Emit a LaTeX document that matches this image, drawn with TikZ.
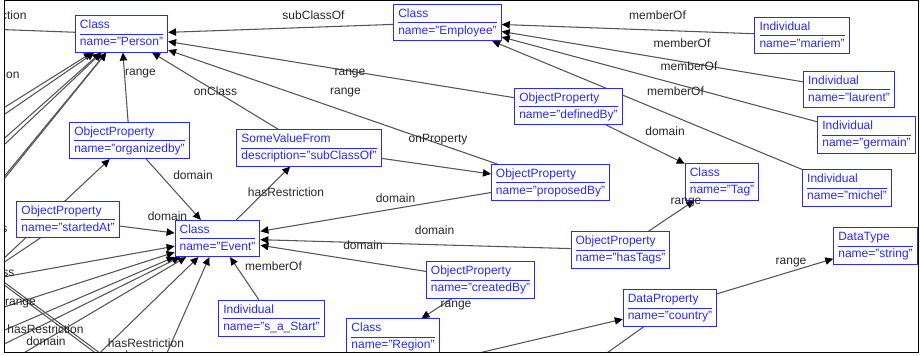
\documentclass[tikz,border=0pt]{standalone}
\usepackage{fontspec}
\setmainfont{Liberation Sans}
\usetikzlibrary{arrows.meta,backgrounds}
\definecolor{ontoblue}{RGB}{40,40,255}
\definecolor{edgegray}{RGB}{85,85,85}
\setlength{\arrayrulewidth}{0.7pt}
\tikzset{every picture/.style={line width=0.75pt}}
\tikzset{
  entity/.style={draw=ontoblue, text=ontoblue, fill=white, line width=0.75pt, inner xsep=3.4pt, inner ysep=1.2pt, font=\fontsize{9}{12}\selectfont},
  rel/.style={draw=edgegray, line width=0.8pt, -{Triangle[length=6pt,width=5.5pt,color=black]}},
  link/.style={draw=edgegray, line width=0.8pt},
  lbl/.style={inner sep=0pt, text=black!85, font=\fontsize{9}{11}\selectfont}
}
\newcommand{\ontobox}[2]{\begin{tabular}{@{}l@{}}#1\\\hline #2\end{tabular}}

\begin{document}
\begin{tikzpicture}[x=0.75pt,y=0.75pt,yscale=-1,xscale=1]
\useasboundingbox (0,0) rectangle (920,356);

\begin{scope}
\clip (4,0.5) rectangle (918.5,352.5);
%Classes
\node[entity] (person) at (121.5,34) {\ontobox{Class}{name="Person"}};
\node[entity] (employee) at (447.5,22.5) {\ontobox{Class}{name="Employee"}};
\node[entity] (tag) at (722,182) {\ontobox{Class}{name="Tag"}};
\node[entity] (event) at (217.5,238.5) {\ontobox{Class}{name="Event"}};
\node[entity] (region) at (393,337) {\ontobox{Class}{name="Region"}};
%Individuals
\node[entity] (mariem) at (802,35.5) {\ontobox{Individual}{name="mariem"}};
\node[entity] (laurent) at (849,89.5) {\ontobox{Individual}{name="laurent"}};
\node[entity] (germain) at (866.5,135) {\ontobox{Individual}{name="germain"}};
\node[entity] (michel) at (847,188) {\ontobox{Individual}{name="michel"}};
\node[entity] (sastart) at (271.5,318.5) {\ontobox{Individual}{name="s\_a\_Start"}};
%Properties
\node[entity] (definedby) at (568.5,106.5) {\ontobox{ObjectProperty}{name="definedBy"}};
\node[entity] (organizedby) at (129.5,140.5) {\ontobox{ObjectProperty}{name="organizedby"}};
\node[entity] (proposedby) at (550.5,182.5) {\ontobox{ObjectProperty}{name="proposedBy"}};
\node[entity] (startedat) at (68,219.5) {\ontobox{ObjectProperty}{name="startedAt"}};
\node[entity] (hastags) at (620.5,250) {\ontobox{ObjectProperty}{name="hasTags"}};
\node[entity] (createdby) at (480.5,280) {\ontobox{ObjectProperty}{name="createdBy"}};
\node[entity] (country) at (670,308) {\ontobox{DataProperty}{name="country"}};
\node[entity] (string) at (875.5,246) {\ontobox{DataType}{name="string"}};
\node[entity] (somevalue) at (309,148) {\ontobox{SomeValueFrom}{description="subClassOf"}};

% Text Node
\node[lbl] (lsubclass) at (313.5,15) {subClassOf};
\node[lbl] (lmem1) at (657.5,15) {memberOf};
\node[lbl] (lmem2) at (682,43) {memberOf};
\node[lbl] (lmem3) at (689,66) {memberOf};
\node[lbl] (lmem4) at (675.5,91) {memberOf};
\node[lbl] (lrange1) at (350,74) {range};
\node[lbl] (lrange2) at (345.5,93) {range};
\node[lbl] (lrange3) at (140.5,74) {range};
\node[lbl] (lonclass) at (215.5,91) {onClass};
\node[lbl] (lonprop) at (438,140) {onProperty};
\node[lbl] (ldom1) at (665,131) {domain};
\node[lbl] (ldom2) at (193,175) {domain};
\node[lbl] (ldom3) at (167.5,216) {domain};
\node[lbl] (lhasres) at (286,192) {hasRestriction};
\node[lbl] (ldom4) at (395.5,198) {domain};
\node[lbl] (ldom5) at (434.5,230) {domain};
\node[lbl] (ldom6) at (363,245) {domain};
\node[lbl] (lmem5) at (273.5,266) {memberOf};
\node[lbl] (lrange4) at (456,306) {range};
\node[lbl] (lrange5) at (686,203) {range};
\node[lbl] (lrange6) at (791,263) {range};
% Text Node (cut at the frame)
\node[lbl, anchor=east] (lcut1) at (27,15) {hasRestriction};
\node[lbl, anchor=east] (lcut2) at (20,74) {hasRestriction};
\node[lbl, anchor=east] (lcut3) at (8,228) {onClass};
\node[lbl, anchor=east] (lcut4) at (15,272) {onClass};
\node[lbl] (lcut5) at (20.5,304) {range};
\node[lbl] (lcut6) at (45.5,329) {hasRestriction};
\node[lbl] (lcut7) at (46,341) {domain};
\node[lbl] (lcut8) at (146,343) {hasRestriction};
\node[lbl] (lcut9) at (141,355) {domain};
\end{scope}

\begin{pgfonlayer}{background}
\clip (4,0.5) rectangle (918.5,352.5);
%Straight Lines
\draw[rel] (employee) -- (person);
\draw[rel] (mariem) -- (employee);
\draw[rel] (laurent) -- (employee);
\draw[rel] (germain) -- (employee);
\draw[rel] (michel) -- (employee);
\draw[rel] (definedby) -- (person);
\draw[rel] (proposedby) -- (person);
\draw[rel] (somevalue) -- (person);
\draw[rel] (organizedby) -- (person);
\draw[rel] (definedby) -- (tag);
\draw[rel] (hastags) -- (tag);
\draw[rel] (somevalue) -- (proposedby);
\draw[rel] (organizedby) -- (event);
\draw[rel] (startedat) -- (event);
\draw[rel] (event) -- (somevalue);
\draw[rel] (proposedby) -- (event);
\draw[rel] (hastags) -- (event);
\draw[rel] (createdby) -- (event);
\draw[rel] (sastart) -- (event);
\draw[rel] (createdby) -- (region);
\draw[rel] (country) -- (string);

%Straight Lines to nodes outside the frame
\coordinate (pw) at (-40,28);
\coordinate (pa) at (-30,129);
\coordinate (pb) at (-30,138);
\coordinate (pc) at (-30,169);
\coordinate (pd) at (-30,177);
\coordinate (pe) at (-30,218);
\coordinate (pf) at (-30,221);
\draw[link] (person) -- (pw);
\draw[rel] (pa) -- (person);
\draw[rel] (pb) -- (person);
\draw[rel] (pc) -- (person);
\draw[rel] (pd) -- (person);
\draw[rel] (pe) -- (person);
\draw[rel] (pf) -- (person);
\coordinate (oa) at (-30,290);
\draw[rel] (oa) -- (organizedby);
\coordinate (sa) at (-30,285);
\draw[link] (startedat) -- (sa);
\coordinate (ea) at (-30,283);
\coordinate (eb) at (-30,318);
\coordinate (ec) at (-30,345);
\coordinate (ed) at (-30,361);
\coordinate (ee) at (-22,380);
\coordinate (ef) at (72,380);
\coordinate (eg) at (155,380);
\draw[rel] (ea) -- (event);
\draw[rel] (eb) -- (event);
\draw[rel] (ec) -- (event);
\draw[rel] (ed) -- (event);
\draw[rel] (ee) -- (event);
\draw[rel] (ef) -- (event);
\draw[rel] (eg) -- (event);
\coordinate (xa) at (-30,257);
\coordinate (xb) at (131,376);
\coordinate (xc) at (-30,259.5);
\coordinate (xd) at (129,378);
\draw[link] (xa) -- (xb);
\draw[link] (xc) -- (xd);
\coordinate (ca) at (364,380);
\coordinate (cb) at (569,380);
\draw[rel] (ca) -- (country);
\draw[link] (country) -- (cb);
\end{pgfonlayer}

%Frame
\draw (4,0.5) rectangle (918.5,352.5);
\end{tikzpicture}
\end{document}
